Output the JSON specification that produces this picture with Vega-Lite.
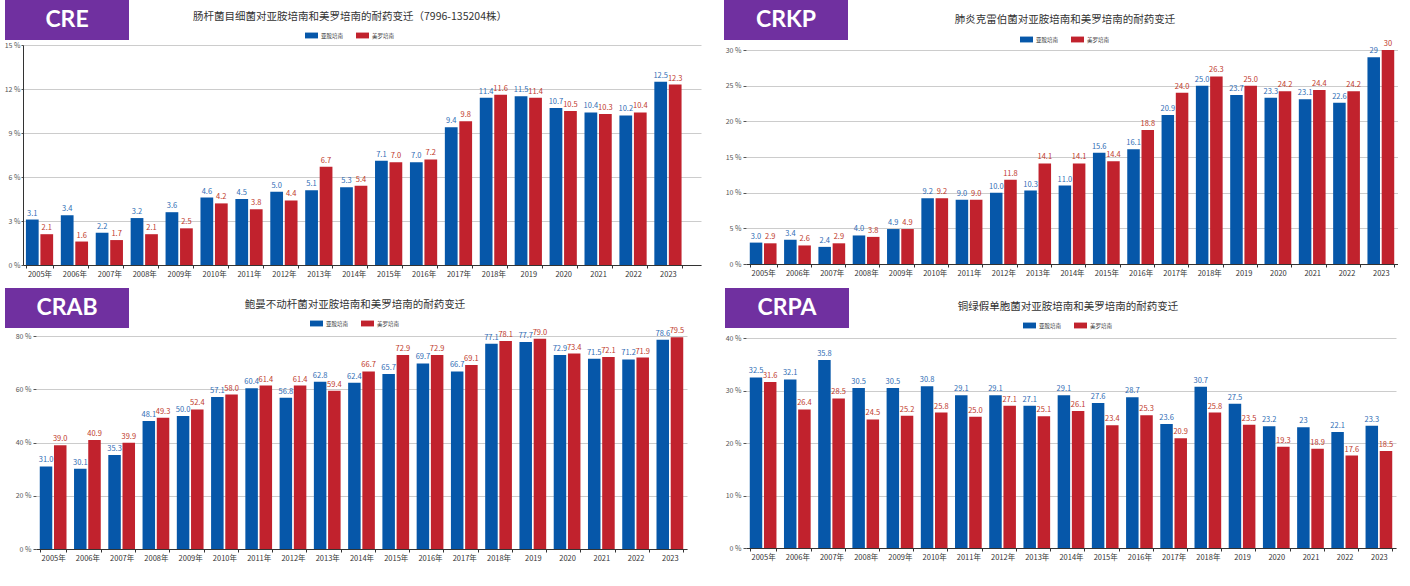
{
"$schema": "https://vega.github.io/schema/vega-lite/v6.json",
"padding": {"left": 4, "top": 0, "right": 0, "bottom": 0},
"background": "white",
"config": {"view": {"stroke": null}, "font": "Noto Sans CJK SC", "axis": {"labelFont": "Noto Sans CJK SC"}},
"data": {"values": [
{"p":"CRE","y":"2005年","d":"亚胺培南","v":3.1,"t":"3.1"},{"p":"CRE","y":"2005年","d":"美罗培南","v":2.1,"t":"2.1"},
{"p":"CRE","y":"2006年","d":"亚胺培南","v":3.4,"t":"3.4"},{"p":"CRE","y":"2006年","d":"美罗培南","v":1.6,"t":"1.6"},
{"p":"CRE","y":"2007年","d":"亚胺培南","v":2.2,"t":"2.2"},{"p":"CRE","y":"2007年","d":"美罗培南","v":1.7,"t":"1.7"},
{"p":"CRE","y":"2008年","d":"亚胺培南","v":3.2,"t":"3.2"},{"p":"CRE","y":"2008年","d":"美罗培南","v":2.1,"t":"2.1"},
{"p":"CRE","y":"2009年","d":"亚胺培南","v":3.6,"t":"3.6"},{"p":"CRE","y":"2009年","d":"美罗培南","v":2.5,"t":"2.5"},
{"p":"CRE","y":"2010年","d":"亚胺培南","v":4.6,"t":"4.6"},{"p":"CRE","y":"2010年","d":"美罗培南","v":4.2,"t":"4.2"},
{"p":"CRE","y":"2011年","d":"亚胺培南","v":4.5,"t":"4.5"},{"p":"CRE","y":"2011年","d":"美罗培南","v":3.8,"t":"3.8"},
{"p":"CRE","y":"2012年","d":"亚胺培南","v":5.0,"t":"5.0"},{"p":"CRE","y":"2012年","d":"美罗培南","v":4.4,"t":"4.4"},
{"p":"CRE","y":"2013年","d":"亚胺培南","v":5.1,"t":"5.1"},{"p":"CRE","y":"2013年","d":"美罗培南","v":6.7,"t":"6.7"},
{"p":"CRE","y":"2014年","d":"亚胺培南","v":5.3,"t":"5.3"},{"p":"CRE","y":"2014年","d":"美罗培南","v":5.4,"t":"5.4"},
{"p":"CRE","y":"2015年","d":"亚胺培南","v":7.1,"t":"7.1"},{"p":"CRE","y":"2015年","d":"美罗培南","v":7.0,"t":"7.0"},
{"p":"CRE","y":"2016年","d":"亚胺培南","v":7.0,"t":"7.0"},{"p":"CRE","y":"2016年","d":"美罗培南","v":7.2,"t":"7.2"},
{"p":"CRE","y":"2017年","d":"亚胺培南","v":9.4,"t":"9.4"},{"p":"CRE","y":"2017年","d":"美罗培南","v":9.8,"t":"9.8"},
{"p":"CRE","y":"2018年","d":"亚胺培南","v":11.4,"t":"11.4"},{"p":"CRE","y":"2018年","d":"美罗培南","v":11.6,"t":"11.6"},
{"p":"CRE","y":"2019","d":"亚胺培南","v":11.5,"t":"11.5"},{"p":"CRE","y":"2019","d":"美罗培南","v":11.4,"t":"11.4"},
{"p":"CRE","y":"2020","d":"亚胺培南","v":10.7,"t":"10.7"},{"p":"CRE","y":"2020","d":"美罗培南","v":10.5,"t":"10.5"},
{"p":"CRE","y":"2021","d":"亚胺培南","v":10.4,"t":"10.4"},{"p":"CRE","y":"2021","d":"美罗培南","v":10.3,"t":"10.3"},
{"p":"CRE","y":"2022","d":"亚胺培南","v":10.2,"t":"10.2"},{"p":"CRE","y":"2022","d":"美罗培南","v":10.4,"t":"10.4"},
{"p":"CRE","y":"2023","d":"亚胺培南","v":12.5,"t":"12.5"},{"p":"CRE","y":"2023","d":"美罗培南","v":12.3,"t":"12.3"},

{"p":"CRKP","y":"2005年","d":"亚胺培南","v":3.0,"t":"3.0"},{"p":"CRKP","y":"2005年","d":"美罗培南","v":2.9,"t":"2.9"},
{"p":"CRKP","y":"2006年","d":"亚胺培南","v":3.4,"t":"3.4"},{"p":"CRKP","y":"2006年","d":"美罗培南","v":2.6,"t":"2.6"},
{"p":"CRKP","y":"2007年","d":"亚胺培南","v":2.4,"t":"2.4"},{"p":"CRKP","y":"2007年","d":"美罗培南","v":2.9,"t":"2.9"},
{"p":"CRKP","y":"2008年","d":"亚胺培南","v":4.0,"t":"4.0"},{"p":"CRKP","y":"2008年","d":"美罗培南","v":3.8,"t":"3.8"},
{"p":"CRKP","y":"2009年","d":"亚胺培南","v":4.9,"t":"4.9"},{"p":"CRKP","y":"2009年","d":"美罗培南","v":4.9,"t":"4.9"},
{"p":"CRKP","y":"2010年","d":"亚胺培南","v":9.2,"t":"9.2"},{"p":"CRKP","y":"2010年","d":"美罗培南","v":9.2,"t":"9.2"},
{"p":"CRKP","y":"2011年","d":"亚胺培南","v":9.0,"t":"9.0"},{"p":"CRKP","y":"2011年","d":"美罗培南","v":9.0,"t":"9.0"},
{"p":"CRKP","y":"2012年","d":"亚胺培南","v":10.0,"t":"10.0"},{"p":"CRKP","y":"2012年","d":"美罗培南","v":11.8,"t":"11.8"},
{"p":"CRKP","y":"2013年","d":"亚胺培南","v":10.3,"t":"10.3"},{"p":"CRKP","y":"2013年","d":"美罗培南","v":14.1,"t":"14.1"},
{"p":"CRKP","y":"2014年","d":"亚胺培南","v":11.0,"t":"11.0"},{"p":"CRKP","y":"2014年","d":"美罗培南","v":14.1,"t":"14.1"},
{"p":"CRKP","y":"2015年","d":"亚胺培南","v":15.6,"t":"15.6"},{"p":"CRKP","y":"2015年","d":"美罗培南","v":14.4,"t":"14.4"},
{"p":"CRKP","y":"2016年","d":"亚胺培南","v":16.1,"t":"16.1"},{"p":"CRKP","y":"2016年","d":"美罗培南","v":18.8,"t":"18.8"},
{"p":"CRKP","y":"2017年","d":"亚胺培南","v":20.9,"t":"20.9"},{"p":"CRKP","y":"2017年","d":"美罗培南","v":24.0,"t":"24.0"},
{"p":"CRKP","y":"2018年","d":"亚胺培南","v":25.0,"t":"25.0"},{"p":"CRKP","y":"2018年","d":"美罗培南","v":26.3,"t":"26.3"},
{"p":"CRKP","y":"2019","d":"亚胺培南","v":23.7,"t":"23.7"},{"p":"CRKP","y":"2019","d":"美罗培南","v":25.0,"t":"25.0"},
{"p":"CRKP","y":"2020","d":"亚胺培南","v":23.3,"t":"23.3"},{"p":"CRKP","y":"2020","d":"美罗培南","v":24.2,"t":"24.2"},
{"p":"CRKP","y":"2021","d":"亚胺培南","v":23.1,"t":"23.1"},{"p":"CRKP","y":"2021","d":"美罗培南","v":24.4,"t":"24.4"},
{"p":"CRKP","y":"2022","d":"亚胺培南","v":22.6,"t":"22.6"},{"p":"CRKP","y":"2022","d":"美罗培南","v":24.2,"t":"24.2"},
{"p":"CRKP","y":"2023","d":"亚胺培南","v":29,"t":"29"},{"p":"CRKP","y":"2023","d":"美罗培南","v":30,"t":"30"},

{"p":"CRAB","y":"2005年","d":"亚胺培南","v":31.0,"t":"31.0"},{"p":"CRAB","y":"2005年","d":"美罗培南","v":39.0,"t":"39.0"},
{"p":"CRAB","y":"2006年","d":"亚胺培南","v":30.1,"t":"30.1"},{"p":"CRAB","y":"2006年","d":"美罗培南","v":40.9,"t":"40.9"},
{"p":"CRAB","y":"2007年","d":"亚胺培南","v":35.3,"t":"35.3"},{"p":"CRAB","y":"2007年","d":"美罗培南","v":39.9,"t":"39.9"},
{"p":"CRAB","y":"2008年","d":"亚胺培南","v":48.1,"t":"48.1"},{"p":"CRAB","y":"2008年","d":"美罗培南","v":49.3,"t":"49.3"},
{"p":"CRAB","y":"2009年","d":"亚胺培南","v":50.0,"t":"50.0"},{"p":"CRAB","y":"2009年","d":"美罗培南","v":52.4,"t":"52.4"},
{"p":"CRAB","y":"2010年","d":"亚胺培南","v":57.1,"t":"57.1"},{"p":"CRAB","y":"2010年","d":"美罗培南","v":58.0,"t":"58.0"},
{"p":"CRAB","y":"2011年","d":"亚胺培南","v":60.4,"t":"60.4"},{"p":"CRAB","y":"2011年","d":"美罗培南","v":61.4,"t":"61.4"},
{"p":"CRAB","y":"2012年","d":"亚胺培南","v":56.8,"t":"56.8"},{"p":"CRAB","y":"2012年","d":"美罗培南","v":61.4,"t":"61.4"},
{"p":"CRAB","y":"2013年","d":"亚胺培南","v":62.8,"t":"62.8"},{"p":"CRAB","y":"2013年","d":"美罗培南","v":59.4,"t":"59.4"},
{"p":"CRAB","y":"2014年","d":"亚胺培南","v":62.4,"t":"62.4"},{"p":"CRAB","y":"2014年","d":"美罗培南","v":66.7,"t":"66.7"},
{"p":"CRAB","y":"2015年","d":"亚胺培南","v":65.7,"t":"65.7"},{"p":"CRAB","y":"2015年","d":"美罗培南","v":72.9,"t":"72.9"},
{"p":"CRAB","y":"2016年","d":"亚胺培南","v":69.7,"t":"69.7"},{"p":"CRAB","y":"2016年","d":"美罗培南","v":72.9,"t":"72.9"},
{"p":"CRAB","y":"2017年","d":"亚胺培南","v":66.7,"t":"66.7"},{"p":"CRAB","y":"2017年","d":"美罗培南","v":69.1,"t":"69.1"},
{"p":"CRAB","y":"2018年","d":"亚胺培南","v":77.1,"t":"77.1"},{"p":"CRAB","y":"2018年","d":"美罗培南","v":78.1,"t":"78.1"},
{"p":"CRAB","y":"2019","d":"亚胺培南","v":77.7,"t":"77.7"},{"p":"CRAB","y":"2019","d":"美罗培南","v":79.0,"t":"79.0"},
{"p":"CRAB","y":"2020","d":"亚胺培南","v":72.9,"t":"72.9"},{"p":"CRAB","y":"2020","d":"美罗培南","v":73.4,"t":"73.4"},
{"p":"CRAB","y":"2021","d":"亚胺培南","v":71.5,"t":"71.5"},{"p":"CRAB","y":"2021","d":"美罗培南","v":72.1,"t":"72.1"},
{"p":"CRAB","y":"2022","d":"亚胺培南","v":71.2,"t":"71.2"},{"p":"CRAB","y":"2022","d":"美罗培南","v":71.9,"t":"71.9"},
{"p":"CRAB","y":"2023","d":"亚胺培南","v":78.6,"t":"78.6"},{"p":"CRAB","y":"2023","d":"美罗培南","v":79.5,"t":"79.5"},

{"p":"CRPA","y":"2005年","d":"亚胺培南","v":32.5,"t":"32.5"},{"p":"CRPA","y":"2005年","d":"美罗培南","v":31.6,"t":"31.6"},
{"p":"CRPA","y":"2006年","d":"亚胺培南","v":32.1,"t":"32.1"},{"p":"CRPA","y":"2006年","d":"美罗培南","v":26.4,"t":"26.4"},
{"p":"CRPA","y":"2007年","d":"亚胺培南","v":35.8,"t":"35.8"},{"p":"CRPA","y":"2007年","d":"美罗培南","v":28.5,"t":"28.5"},
{"p":"CRPA","y":"2008年","d":"亚胺培南","v":30.5,"t":"30.5"},{"p":"CRPA","y":"2008年","d":"美罗培南","v":24.5,"t":"24.5"},
{"p":"CRPA","y":"2009年","d":"亚胺培南","v":30.5,"t":"30.5"},{"p":"CRPA","y":"2009年","d":"美罗培南","v":25.2,"t":"25.2"},
{"p":"CRPA","y":"2010年","d":"亚胺培南","v":30.8,"t":"30.8"},{"p":"CRPA","y":"2010年","d":"美罗培南","v":25.8,"t":"25.8"},
{"p":"CRPA","y":"2011年","d":"亚胺培南","v":29.1,"t":"29.1"},{"p":"CRPA","y":"2011年","d":"美罗培南","v":25.0,"t":"25.0"},
{"p":"CRPA","y":"2012年","d":"亚胺培南","v":29.1,"t":"29.1"},{"p":"CRPA","y":"2012年","d":"美罗培南","v":27.1,"t":"27.1"},
{"p":"CRPA","y":"2013年","d":"亚胺培南","v":27.1,"t":"27.1"},{"p":"CRPA","y":"2013年","d":"美罗培南","v":25.1,"t":"25.1"},
{"p":"CRPA","y":"2014年","d":"亚胺培南","v":29.1,"t":"29.1"},{"p":"CRPA","y":"2014年","d":"美罗培南","v":26.1,"t":"26.1"},
{"p":"CRPA","y":"2015年","d":"亚胺培南","v":27.6,"t":"27.6"},{"p":"CRPA","y":"2015年","d":"美罗培南","v":23.4,"t":"23.4"},
{"p":"CRPA","y":"2016年","d":"亚胺培南","v":28.7,"t":"28.7"},{"p":"CRPA","y":"2016年","d":"美罗培南","v":25.3,"t":"25.3"},
{"p":"CRPA","y":"2017年","d":"亚胺培南","v":23.6,"t":"23.6"},{"p":"CRPA","y":"2017年","d":"美罗培南","v":20.9,"t":"20.9"},
{"p":"CRPA","y":"2018年","d":"亚胺培南","v":30.7,"t":"30.7"},{"p":"CRPA","y":"2018年","d":"美罗培南","v":25.8,"t":"25.8"},
{"p":"CRPA","y":"2019","d":"亚胺培南","v":27.5,"t":"27.5"},{"p":"CRPA","y":"2019","d":"美罗培南","v":23.5,"t":"23.5"},
{"p":"CRPA","y":"2020","d":"亚胺培南","v":23.2,"t":"23.2"},{"p":"CRPA","y":"2020","d":"美罗培南","v":19.3,"t":"19.3"},
{"p":"CRPA","y":"2021","d":"亚胺培南","v":23,"t":"23"},{"p":"CRPA","y":"2021","d":"美罗培南","v":18.9,"t":"18.9"},
{"p":"CRPA","y":"2022","d":"亚胺培南","v":22.1,"t":"22.1"},{"p":"CRPA","y":"2022","d":"美罗培南","v":17.6,"t":"17.6"},
{"p":"CRPA","y":"2023","d":"亚胺培南","v":23.3,"t":"23.3"},{"p":"CRPA","y":"2023","d":"美罗培南","v":18.5,"t":"18.5"}
]},
"spacing": 10,
"resolve": {"scale": {"color": "independent", "xOffset": "independent"}},
"vconcat": [
{
"spacing": 23,
"resolve": {"scale": {"color": "independent", "xOffset": "independent"}},
"hconcat": [
{
"columns": 1, "align": "none", "spacing": 1,
"resolve": {"scale": {"color": "independent", "xOffset": "independent"}},
"concat": [
{"spacing": 4, "resolve": {"scale": {"color": "independent"}},
 "hconcat": [
  {"width": 124, "height": 40, "view": {"fill": "#7030A0", "stroke": null},
   "data": {"values": [{"lab": "CRE"}]},
   "mark": {"type": "text", "font": "Lato", "fontWeight": "bold", "fontSize": 23, "color": "#ffffff", "align": "center", "baseline": "middle"},
   "encoding": {"text": {"field": "lab", "type": "nominal"}}},
  {"width": 434, "height": 40,
   "data": {"values": [{"title": "肠杆菌目细菌对亚胺培南和美罗培南的耐药变迁（7996-135204株）"}]},
   "layer": [
    {"mark": {"type": "text", "fontSize": 10.5, "color": "#333333", "dy": -3, "align": "center", "baseline": "middle"}, "encoding": {"text": {"field": "title", "type": "nominal"}}},
    {"transform": [{"filter": "false"}], "mark": {"type": "square"},
     "encoding": {"color": {"field": "d", "type": "nominal", "scale": {"domain": ["亚胺培南","美罗培南"], "range": ["#0657A9","#C1222D"]},
      "legend": {"orient": "none", "legendX": 172, "legendY": 29, "direction": "horizontal", "title": null, "symbolType": "M-1,-0.45H1V0.45H-1Z", "symbolSize": 169, "symbolStrokeWidth": 0, "symbolOpacity": 1, "labelFontSize": 5.5, "labelColor": "#333333", "columnPadding": 12, "labelOffset": 3}}}}
   ]}
 ]},
{"width": 696, "height": 220,
 "transform": [{"filter": "datum.p === 'CRE'"}],
 "encoding": {
  "x": {"field": "y", "type": "nominal", "sort": null, "title": null,
   "scale": {"paddingInner": 0.22, "paddingOuter": 0.32, "align": 0.13, "rangeMin": 18},
   "axis": {"labelAngle": 0, "labelFontSize": 7.5, "labelColor": "#333333", "domainColor": "#333333", "tickColor": "#333333", "tickSize": 3, "tickBand": "extent", "labelPadding": 2, "grid": false}},
  "xOffset": {"field": "d", "type": "nominal", "sort": ["亚胺培南","美罗培南"], "scale": {"paddingInner": 0.12, "paddingOuter": 0}},
  "y": {"field": "v", "type": "quantitative", "title": null, "scale": {"domain": [0, 15], "nice": false},
   "axis": {"offset": -18, "values": [0,3,6,9,12,15], "labelExpr": "datum.value + ' %'", "labelFontSize": 7, "labelColor": "#555555", "gridColor": "#cccccc", "domain": true, "domainColor": "#333333", "tickSize": 2, "tickColor": "#555555", "labelPadding": 1}}
 },
 "layer": [
  {"mark": {"type": "bar"}, "encoding": {"color": {"field": "d", "type": "nominal", "scale": {"domain": ["亚胺培南","美罗培南"], "range": ["#0657A9","#C1222D"]}, "legend": null}}},
  {"mark": {"type": "text", "baseline": "bottom", "dy": -2, "fontSize": 7.5}, "encoding": {"text": {"field": "t", "type": "nominal"}, "color": {"condition": {"test": "datum.d === '亚胺培南'", "value": "#2F6DB5"}, "value": "#C0392B"}}}
 ]}
]
},
{
"columns": 1, "align": "none", "spacing": -3,
"resolve": {"scale": {"color": "independent", "xOffset": "independent"}},
"concat": [
{"spacing": 4, "resolve": {"scale": {"color": "independent"}},
 "hconcat": [
  {"width": 124, "height": 40, "view": {"fill": "#7030A0", "stroke": null},
   "data": {"values": [{"lab": "CRKP"}]},
   "mark": {"type": "text", "font": "Lato", "fontWeight": "bold", "fontSize": 23, "color": "#ffffff", "align": "center", "baseline": "middle"},
   "encoding": {"text": {"field": "lab", "type": "nominal"}}},
  {"width": 426, "height": 40,
   "data": {"values": [{"title": "肺炎克雷伯菌对亚胺培南和美罗培南的耐药变迁"}]},
   "layer": [
    {"mark": {"type": "text", "fontSize": 10.5, "color": "#333333", "dy": 0, "align": "center", "baseline": "middle"}, "encoding": {"text": {"field": "title", "type": "nominal"}}},
    {"transform": [{"filter": "false"}], "mark": {"type": "square"},
     "encoding": {"color": {"field": "d", "type": "nominal", "scale": {"domain": ["亚胺培南","美罗培南"], "range": ["#0657A9","#C1222D"]},
      "legend": {"orient": "none", "legendX": 168, "legendY": 33, "direction": "horizontal", "title": null, "symbolType": "M-1,-0.45H1V0.45H-1Z", "symbolSize": 169, "symbolStrokeWidth": 0, "symbolOpacity": 1, "labelFontSize": 5.5, "labelColor": "#333333", "columnPadding": 12, "labelOffset": 3}}}}
   ]}
 ]},
{"width": 674, "height": 214,
 "transform": [{"filter": "datum.p === 'CRKP'"}],
 "encoding": {
  "x": {"field": "y", "type": "nominal", "sort": null, "title": null,
   "scale": {"paddingInner": 0.22, "paddingOuter": 0.11, "rangeMin": 22},
   "axis": {"labelAngle": 0, "labelFontSize": 7.5, "labelColor": "#333333", "domainColor": "#333333", "tickColor": "#333333", "tickSize": 3, "tickBand": "extent", "labelPadding": 2, "grid": false}},
  "xOffset": {"field": "d", "type": "nominal", "sort": ["亚胺培南","美罗培南"], "scale": {"paddingInner": 0.12, "paddingOuter": 0}},
  "y": {"field": "v", "type": "quantitative", "title": null, "scale": {"domain": [0, 30], "nice": false},
   "axis": {"offset": -22, "values": [0,5,10,15,20,25,30], "labelExpr": "datum.value + ' %'", "labelFontSize": 7, "labelColor": "#555555", "gridColor": "#cccccc", "domain": false, "tickSize": 3, "tickColor": "#555555", "labelPadding": 2}}
 },
 "layer": [
  {"mark": {"type": "bar"}, "encoding": {"color": {"field": "d", "type": "nominal", "scale": {"domain": ["亚胺培南","美罗培南"], "range": ["#0657A9","#C1222D"]}, "legend": null}}},
  {"mark": {"type": "text", "baseline": "bottom", "dy": -2, "fontSize": 7.5}, "encoding": {"text": {"field": "t", "type": "nominal"}, "color": {"condition": {"test": "datum.d === '亚胺培南'", "value": "#2F6DB5"}, "value": "#C0392B"}}}
 ]}
]
}
]
},
{
"spacing": 38,
"resolve": {"scale": {"color": "independent", "xOffset": "independent"}},
"hconcat": [
{
"columns": 1, "align": "none", "spacing": -1,
"resolve": {"scale": {"color": "independent", "xOffset": "independent"}},
"concat": [
{"spacing": 4, "resolve": {"scale": {"color": "independent"}},
 "hconcat": [
  {"width": 124, "height": 40, "view": {"fill": "#7030A0", "stroke": null},
   "data": {"values": [{"lab": "CRAB"}]},
   "mark": {"type": "text", "font": "Lato", "fontWeight": "bold", "fontSize": 23, "color": "#ffffff", "align": "center", "baseline": "middle"},
   "encoding": {"text": {"field": "lab", "type": "nominal"}}},
  {"width": 444, "height": 40,
   "data": {"values": [{"title": "鲍曼不动杆菌对亚胺培南和美罗培南的耐药变迁"}]},
   "layer": [
    {"mark": {"type": "text", "fontSize": 10.5, "color": "#333333", "dy": -3, "align": "center", "baseline": "middle"}, "encoding": {"text": {"field": "title", "type": "nominal"}}},
    {"transform": [{"filter": "false"}], "mark": {"type": "square"},
     "encoding": {"color": {"field": "d", "type": "nominal", "scale": {"domain": ["亚胺培南","美罗培南"], "range": ["#0657A9","#C1222D"]},
      "legend": {"orient": "none", "legendX": 177, "legendY": 29, "direction": "horizontal", "title": null, "symbolType": "M-1,-0.45H1V0.45H-1Z", "symbolSize": 169, "symbolStrokeWidth": 0, "symbolOpacity": 1, "labelFontSize": 5.5, "labelColor": "#333333", "columnPadding": 12, "labelOffset": 3}}}}
   ]}
 ]},
{"width": 682, "height": 213,
 "transform": [{"filter": "datum.p === 'CRAB'"}],
 "encoding": {
  "x": {"field": "y", "type": "nominal", "sort": null, "title": null,
   "scale": {"paddingInner": 0.22, "paddingOuter": 0.11, "rangeMin": 31},
   "axis": {"labelAngle": 0, "labelFontSize": 7.5, "labelColor": "#333333", "domainColor": "#333333", "tickColor": "#333333", "tickSize": 3, "tickBand": "extent", "labelPadding": 2, "grid": false}},
  "xOffset": {"field": "d", "type": "nominal", "sort": ["亚胺培南","美罗培南"], "scale": {"paddingInner": 0.12, "paddingOuter": 0}},
  "y": {"field": "v", "type": "quantitative", "title": null, "scale": {"domain": [0, 80], "nice": false},
   "axis": {"offset": -31, "values": [0,20,40,60,80], "labelExpr": "datum.value + ' %'", "labelFontSize": 7, "labelColor": "#555555", "gridColor": "#cccccc", "domain": false, "tickSize": 3, "tickColor": "#555555", "labelPadding": 2}}
 },
 "layer": [
  {"mark": {"type": "bar"}, "encoding": {"color": {"field": "d", "type": "nominal", "scale": {"domain": ["亚胺培南","美罗培南"], "range": ["#0657A9","#C1222D"]}, "legend": null}}},
  {"mark": {"type": "text", "baseline": "bottom", "dy": -2, "fontSize": 7.5}, "encoding": {"text": {"field": "t", "type": "nominal"}, "color": {"condition": {"test": "datum.d === '亚胺培南'", "value": "#2F6DB5"}, "value": "#C0392B"}}}
 ]}
]
},
{
"columns": 1, "align": "none", "spacing": 5,
"resolve": {"scale": {"color": "independent", "xOffset": "independent"}},
"concat": [
{"spacing": 4, "resolve": {"scale": {"color": "independent"}},
 "hconcat": [
  {"width": 124, "height": 40, "view": {"fill": "#7030A0", "stroke": null},
   "data": {"values": [{"lab": "CRPA"}]},
   "mark": {"type": "text", "font": "Lato", "fontWeight": "bold", "fontSize": 23, "color": "#ffffff", "align": "center", "baseline": "middle"},
   "encoding": {"text": {"field": "lab", "type": "nominal"}}},
  {"width": 430, "height": 40,
   "data": {"values": [{"title": "铜绿假单胞菌对亚胺培南和美罗培南的耐药变迁"}]},
   "layer": [
    {"mark": {"type": "text", "fontSize": 10.5, "color": "#333333", "dy": -1, "align": "center", "baseline": "middle"}, "encoding": {"text": {"field": "title", "type": "nominal"}}},
    {"transform": [{"filter": "false"}], "mark": {"type": "square"},
     "encoding": {"color": {"field": "d", "type": "nominal", "scale": {"domain": ["亚胺培南","美罗培南"], "range": ["#0657A9","#C1222D"]},
      "legend": {"orient": "none", "legendX": 170, "legendY": 31, "direction": "horizontal", "title": null, "symbolType": "M-1,-0.45H1V0.45H-1Z", "symbolSize": 169, "symbolStrokeWidth": 0, "symbolOpacity": 1, "labelFontSize": 5.5, "labelColor": "#333333", "columnPadding": 12, "labelOffset": 3}}}}
   ]}
 ]},
{"width": 671, "height": 210,
 "transform": [{"filter": "datum.p === 'CRPA'"}],
 "encoding": {
  "x": {"field": "y", "type": "nominal", "sort": null, "title": null,
   "scale": {"paddingInner": 0.22, "paddingOuter": 0.11, "rangeMin": 21},
   "axis": {"labelAngle": 0, "labelFontSize": 7.5, "labelColor": "#333333", "domainColor": "#333333", "tickColor": "#333333", "tickSize": 3, "tickBand": "extent", "labelPadding": 2, "grid": false}},
  "xOffset": {"field": "d", "type": "nominal", "sort": ["亚胺培南","美罗培南"], "scale": {"paddingInner": 0.12, "paddingOuter": 0}},
  "y": {"field": "v", "type": "quantitative", "title": null, "scale": {"domain": [0, 40], "nice": false},
   "axis": {"offset": -21, "values": [0,10,20,30,40], "labelExpr": "datum.value + ' %'", "labelFontSize": 7, "labelColor": "#555555", "gridColor": "#cccccc", "domain": false, "tickSize": 3, "tickColor": "#555555", "labelPadding": 2}}
 },
 "layer": [
  {"mark": {"type": "bar"}, "encoding": {"color": {"field": "d", "type": "nominal", "scale": {"domain": ["亚胺培南","美罗培南"], "range": ["#0657A9","#C1222D"]}, "legend": null}}},
  {"mark": {"type": "text", "baseline": "bottom", "dy": -2, "fontSize": 7.5}, "encoding": {"text": {"field": "t", "type": "nominal"}, "color": {"condition": {"test": "datum.d === '亚胺培南'", "value": "#2F6DB5"}, "value": "#C0392B"}}}
 ]}
]
}
]
}
]
}
